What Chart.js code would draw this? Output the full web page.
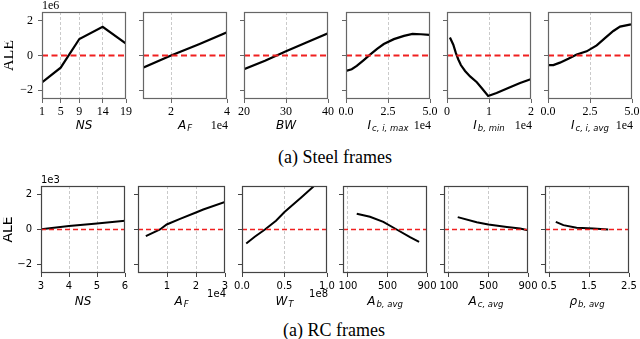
<!DOCTYPE html>
<html>
<head>
<meta charset="utf-8">
<script src="https://cdn.jsdelivr.net/npm/chart.js@4.4.1/dist/chart.umd.min.js"></script>
<style>
  html, body { margin: 0; padding: 0; background: #fff; }
  #wrap { position: relative; width: 640px; height: 339px; overflow: hidden; }
  #wrap canvas { position: absolute; }
  .cap { position: absolute; font-family: 'Liberation Serif', serif; font-size: 18px; line-height: 18px;
         color: #000; white-space: nowrap; transform: translateX(-50%); }
</style>
</head>
<body>
<div id="wrap">
  <div class="cap" style="left:335px; top:148px;">(a) Steel frames</div>
  <div class="cap" style="left:334px; top:321px;">(a) RC frames</div>
</div>
<script>
// ---- Steel frames (ALE in 1e6) ----
const nsSteelX = [1, 5, 9, 14, 19];
const nsSteelY = [-1.55, -0.7, 0.95, 1.65, 0.68];
const afSteelX = [1.0, 2.0, 3.0, 4.0];            // 1e4
const afSteelY = [-0.7, 0.0, 0.65, 1.34];
const bwSteelX = [20, 25, 30, 35, 40];
const bwSteelY = [-0.79, -0.3, 0.25, 0.76, 1.28];
const icMaxX = [0.0, 0.34, 0.64, 1.04, 1.45, 1.85, 2.25, 2.85, 3.45, 3.96, 4.46, 4.96];   // 1e4
const icMaxY = [-0.89, -0.79, -0.6, -0.28, 0.06, 0.38, 0.66, 0.94, 1.13, 1.24, 1.22, 1.19];
const ibMinX = [0.07, 0.15, 0.21, 0.27, 0.33, 0.43, 0.55, 0.71, 0.83, 0.98, 1.18, 1.5, 1.74, 1.99]; // 1e4
const ibMinY = [1.03, 0.62, 0.15, -0.23, -0.55, -0.89, -1.2, -1.54, -1.88, -2.33, -2.15, -1.82, -1.58, -1.36];
const icAvgX = [0.02, 0.32, 0.71, 1.21, 1.71, 2.3, 2.9, 3.39, 3.89, 4.29, 4.94];          // 1e4
const icAvgY = [-0.55, -0.55, -0.41, -0.19, 0.06, 0.24, 0.58, 1.0, 1.41, 1.66, 1.79];

// ---- RC frames (ALE in 1e3) ----
const nsRcX = [3, 4, 5, 6];
const nsRcY = [0.02, 0.2, 0.35, 0.5];
const afRcX = [0.27, 0.76, 0.99, 1.45, 2.02, 2.25, 3.0];   // 1e4
const afRcY = [-0.38, 0.0, 0.29, 0.61, 0.99, 1.15, 1.59];
const wtRcX = [0.05, 0.15, 0.27, 0.4, 0.5, 0.7, 0.87];    // 1e8
const wtRcY = [-0.8, -0.42, 0.0, 0.5, 1.0, 1.85, 2.6];
const abRcX = [189, 323, 458, 593, 728, 820];
const abRcY = [0.9, 0.73, 0.44, 0.0, -0.44, -0.71];
const acRcX = [189, 381, 499, 686, 820, 898];
const acRcY = [0.71, 0.42, 0.29, 0.15, 0.06, -0.04];
const rhoRcX = [0.67, 0.86, 1.19, 1.61, 1.98];
const rhoRcY = [0.44, 0.25, 0.1, 0.06, 0.0];

// ---- ticks ----
const yTicks = [-2, 0, 2];
const nsSteelTicks = [1, 5, 9, 14, 19];
const afSteelTicks = [2, 4];
const bwSteelTicks = [20, 30, 40];
const icTicks = [0, 2.5, 5];
const ibTicks = [0, 1, 2];
const nsRcTicks = [3, 4, 5, 6];
const afRcTicks = [1, 2, 3];
const wtRcTicks = [0, 0.5, 1];
const areaTicks = [100, 500, 900];
const rhoTicks = [0.5, 1.5, 2.5];

const rows = [
  { top: 12, font: '"Liberation Serif"', size: 12, yOff: '1e6', spine: '#666', lw: 2.2, dash: [6, 3.5], redW: 2,
    labelDy: 27, offDy: 27, offFont: '12px "Liberation Serif"', aleFont: '16px "Liberation Serif"', tickPad: 2 },
  { top: 186, font: '"DejaVu Sans"', size: 10, yOff: '1e3', spine: '#444', lw: 2, dash: [5, 3], redW: 1.6,
    labelDy: 29, offDy: 21, offFont: '10px "DejaVu Sans"', aleFont: '14px "DejaVu Sans"', tickPad: 3 }
];

const panels = [
  { row: 0, left: 42,  xs: nsSteelX, ys: nsSteelY, min: 1,  max: 19, ticks: nsSteelTicks, grid: [5, 9, 14], dec: 0, main: 'NS', sub: '', xOff: '' },
  { row: 0, left: 143, xs: afSteelX, ys: afSteelY, min: 1,  max: 4,  ticks: afSteelTicks, grid: [2], dec: 0, main: 'A', sub: 'F', xOff: '1e4' },
  { row: 0, left: 244, xs: bwSteelX, ys: bwSteelY, min: 20, max: 40, ticks: bwSteelTicks, grid: [30], dec: 0, main: 'BW', sub: '', xOff: '' },
  { row: 0, left: 346, xs: icMaxX, ys: icMaxY, min: 0, max: 5, ticks: icTicks, grid: [2.5], dec: 1, main: 'I', sub: 'c, i, max', xOff: '1e4' },
  { row: 0, left: 447, xs: ibMinX, ys: ibMinY, min: 0, max: 2, ticks: ibTicks, grid: [1], dec: 0, main: 'I', sub: 'b, min', xOff: '1e4' },
  { row: 0, left: 548, xs: icAvgX, ys: icAvgY, min: 0, max: 5, ticks: icTicks, grid: [2.5], dec: 1, main: 'I', sub: 'c, i, avg', xOff: '1e4' },
  { row: 1, left: 41,  xs: nsRcX, ys: nsRcY, min: 3, max: 6, ticks: nsRcTicks, grid: [4, 5], dec: 0, main: 'NS', sub: '', xOff: '' },
  { row: 1, left: 138, w: 87, xs: afRcX, ys: afRcY, min: 0, max: 3, ticks: afRcTicks, grid: [1, 2], dec: 0, main: 'A', sub: 'F', xOff: '1e4' },
  { row: 1, left: 242, w: 85, xs: wtRcX, ys: wtRcY, min: 0, max: 1, ticks: wtRcTicks, grid: [0.5], dec: 1, main: 'W', sub: 'T', xOff: '1e8' },
  { row: 1, left: 343, xs: abRcX, ys: abRcY, min: 50, max: 900, ticks: areaTicks, grid: [100, 500], dec: 0, main: 'A', sub: 'b, avg', xOff: '' },
  { row: 1, left: 444, xs: acRcX, ys: acRcY, min: 50, max: 900, ticks: areaTicks, grid: [100, 500], dec: 0, main: 'A', sub: 'c, avg', xOff: '' },
  { row: 1, left: 545, xs: rhoRcX, ys: rhoRcY, min: 0.4, max: 2.5, ticks: rhoTicks, grid: [0.5, 1.5], dec: 1, main: 'ρ', sub: 'b, avg', xOff: '' }
];

const PW = 84, PH = 87, LEFT = 38, TOP = 14, RIGHT = 12, BOTTOM = 36;

// frame, axis labels and offset texts
const panelDeco = {
  id: 'panelDeco',
  afterDraw(chart, args, o) {
    const { ctx, chartArea: a } = chart;
    ctx.save();
    ctx.setLineDash([]);
    ctx.strokeStyle = o.spine;
    ctx.lineWidth = 1.2;
    ctx.strokeRect(Math.round(a.left) + 0.5, Math.round(a.top) + 0.5, Math.round(a.right - a.left) - 1, Math.round(a.bottom - a.top) - 1);

    ctx.fillStyle = '#000';
    ctx.textBaseline = 'middle';
    const mainFont = 'italic 12px "DejaVu Sans"';
    const subFont = 'italic 8.5px "DejaVu Sans"';
    ctx.font = mainFont;
    const mw = ctx.measureText(o.main).width;
    ctx.font = subFont;
    const sw = o.sub ? ctx.measureText(o.sub).width + 1 : 0;
    const x0 = (a.left + a.right) / 2 - (mw + sw) / 2;
    const ly = a.bottom + o.labelDy;
    ctx.textAlign = 'left';
    ctx.font = mainFont;
    ctx.fillText(o.main, x0, ly);
    if (o.sub) {
      ctx.font = subFont;
      ctx.fillText(o.sub, x0 + mw + 1, ly + 3);
    }
    if (o.xOff) {
      ctx.font = o.offFont;
      ctx.textAlign = 'right';
      ctx.fillText(o.xOff, a.right + 1, a.bottom + o.offDy);
    }
    if (o.first) {
      ctx.font = o.offFont;
      ctx.textAlign = 'left';
      ctx.fillText(o.yOff, a.left, a.top - 6);
      ctx.save();
      ctx.translate(a.left - 33, (a.top + a.bottom) / 2);
      ctx.rotate(-Math.PI / 2);
      ctx.textAlign = 'center';
      ctx.font = o.aleFont;
      ctx.fillText('ALE', 0, 0);
      ctx.restore();
    }
    ctx.restore();
  }
};

const fmtY = v => v < 0 ? '\u2212' + Math.abs(v) : String(v);

panels.forEach((p, idx) => {
  const r = rows[p.row];
  const first = p.left < 60;
  const pw = p.w || PW;
  const cv = document.createElement('canvas');
  const W = pw + LEFT + RIGHT, H = PH + TOP + BOTTOM;
  cv.width = W; cv.height = H;
  cv.style.width = W + 'px'; cv.style.height = H + 'px';
  cv.style.left = (p.left - LEFT) + 'px';
  cv.style.top = (r.top - TOP) + 'px';
  document.getElementById('wrap').appendChild(cv);

  const line = p.xs.map((v, i) => ({ x: v, y: p.ys[i] }));
  const zero = [{ x: p.min, y: 0 }, { x: p.max, y: 0 }];
  const tickFont = { family: r.font, size: r.size };

  new Chart(cv.getContext('2d'), {
    type: 'line',
    data: {
      datasets: [
        { data: line, borderColor: '#000', borderWidth: r.lw, pointRadius: 0, tension: 0, order: 2 },
        { data: zero, borderColor: '#f02020', borderWidth: r.redW, borderDash: r.dash, pointRadius: 0, order: 1 }
      ]
    },
    options: {
      responsive: false,
      animation: false,
      events: [],
      layout: { padding: { left: 0, top: TOP, right: RIGHT, bottom: 0 } },
      scales: {
        x: {
          type: 'linear',
          min: p.min,
          max: p.max,
          afterBuildTicks: s => { s.ticks = p.ticks.map(v => ({ value: v })); },
          afterFit: s => { s.height = BOTTOM; s.paddingLeft = 0; s.paddingRight = 0; },
          ticks: {
            autoSkip: false, maxRotation: 0, color: '#000', padding: r.tickPad, font: tickFont,
            callback: v => Number(v).toFixed(p.dec)
          },
          grid: {
            color: c => (c.tick && p.grid.includes(c.tick.value)) ? '#c4c4c4' : 'rgba(0,0,0,0)',
            lineWidth: 0.9,
            tickColor: r.spine, tickLength: 4, tickWidth: 1
          },
          border: { display: false, dash: [3, 2] }
        },
        y: {
          type: 'linear',
          min: -2.5,
          max: 2.5,
          afterBuildTicks: s => { s.ticks = yTicks.map(v => ({ value: v })); },
          afterFit: s => { s.width = LEFT; s.paddingTop = 0; s.paddingBottom = 0; },
          ticks: {
            color: '#000', padding: 5, font: tickFont,
            callback: v => first ? fmtY(v) : ''
          },
          grid: { drawOnChartArea: false, tickColor: r.spine, tickLength: 4, tickWidth: 1 },
          border: { display: false }
        }
      },
      plugins: {
        legend: { display: false },
        tooltip: { enabled: false },
        panelDeco: {
          spine: r.spine, main: p.main, sub: p.sub, xOff: p.xOff, first: first, yOff: r.yOff,
          labelDy: r.labelDy, offDy: r.offDy, offFont: r.offFont, aleFont: r.aleFont
        }
      }
    },
    plugins: [panelDeco]
  });
});
</script>
</body>
</html>
